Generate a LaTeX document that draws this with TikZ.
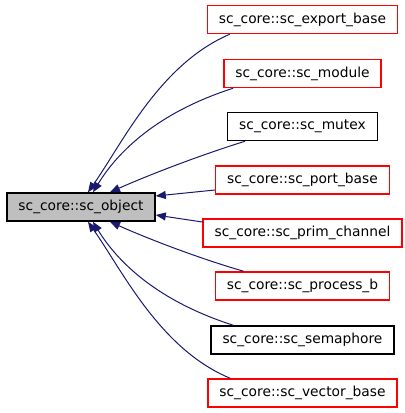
\documentclass[tikz,border=0pt]{standalone}
\usepackage{fontspec}
\setmainfont{DejaVu Sans}
\usetikzlibrary{arrows.meta}
\definecolor{edgeblue}{RGB}{25,25,112}
\definecolor{mainfill}{RGB}{191,191,191}
\definecolor{undocred}{RGB}{255,0,0}
\tikzset{
	clsbox/.style={rectangle, draw, line width=1.5bp, minimum height=28bp, inner xsep=11.5bp, inner ysep=0pt, font=\fontsize{13.85pt}{16pt}\selectfont},
	doc/.style={clsbox, color=black, fill=white, text=black},
	undoc/.style={clsbox, color=undocred, fill=white, text=black},
	inherit/.style={color=edgeblue, line width=1bp, -{Triangle[length=10bp, width=8bp]}}
}
\begin{document}
\begin{tikzpicture}[x=1bp, y=-1bp]
			\useasboundingbox (0,0) rectangle (405,413);
			\node[doc, fill=mainfill](obj) at (81,207){sc\_core::sc\_object};
			\node[undoc](export) at (302.5,19.5){sc\_core::sc\_export\_base};
			\node[undoc](module) at (302.5,73.5){sc\_core::sc\_module};
			\node[doc](mutex) at (302.5,126.5){sc\_core::sc\_mutex};
			\node[undoc](port) at (302.5,180){sc\_core::sc\_port\_base};
			\node[undoc](prim) at (302.5,233){sc\_core::sc\_prim\_channel};
			\node[undoc](process) at (302.5,286){sc\_core::sc\_process\_b};
			\node[doc](sema) at (302.5,340){sc\_core::sc\_semaphore};
			\node[undoc](vector) at (302.5,393){sc\_core::sc\_vector\_base};
			\draw[inherit] ([xshift=23bp]export.south west) .. controls +(-70,30) and +(35,-50) .. ([xshift=7bp]obj.north);
			\draw[inherit] ([xshift=10bp]module.south west) .. controls +(-75,24) and +(25,-41) .. ([xshift=12bp]obj.north);
			\draw[inherit] ([xshift=18bp]mutex.south west) .. controls +(-45,14) and +(38,-17) .. ([xshift=29bp]obj.north);
			\draw[inherit] ([yshift=-10bp]port.west) -- ([yshift=11bp]obj.east);
			\draw[inherit] ([yshift=11bp]prim.west) -- ([yshift=-8bp]obj.east);
			\draw[inherit] ([xshift=29bp]process.north west) .. controls +(-45,-13) and +(38,17) .. ([xshift=29bp]obj.south);
			\draw[inherit] ([xshift=23bp]sema.north west) .. controls +(-75,-24) and +(25,41) .. ([xshift=12bp]obj.south);
			\draw[inherit] ([xshift=23bp]vector.north west) .. controls +(-70,-29) and +(35,50) .. ([xshift=7bp]obj.south);
\end{tikzpicture}
\end{document}
